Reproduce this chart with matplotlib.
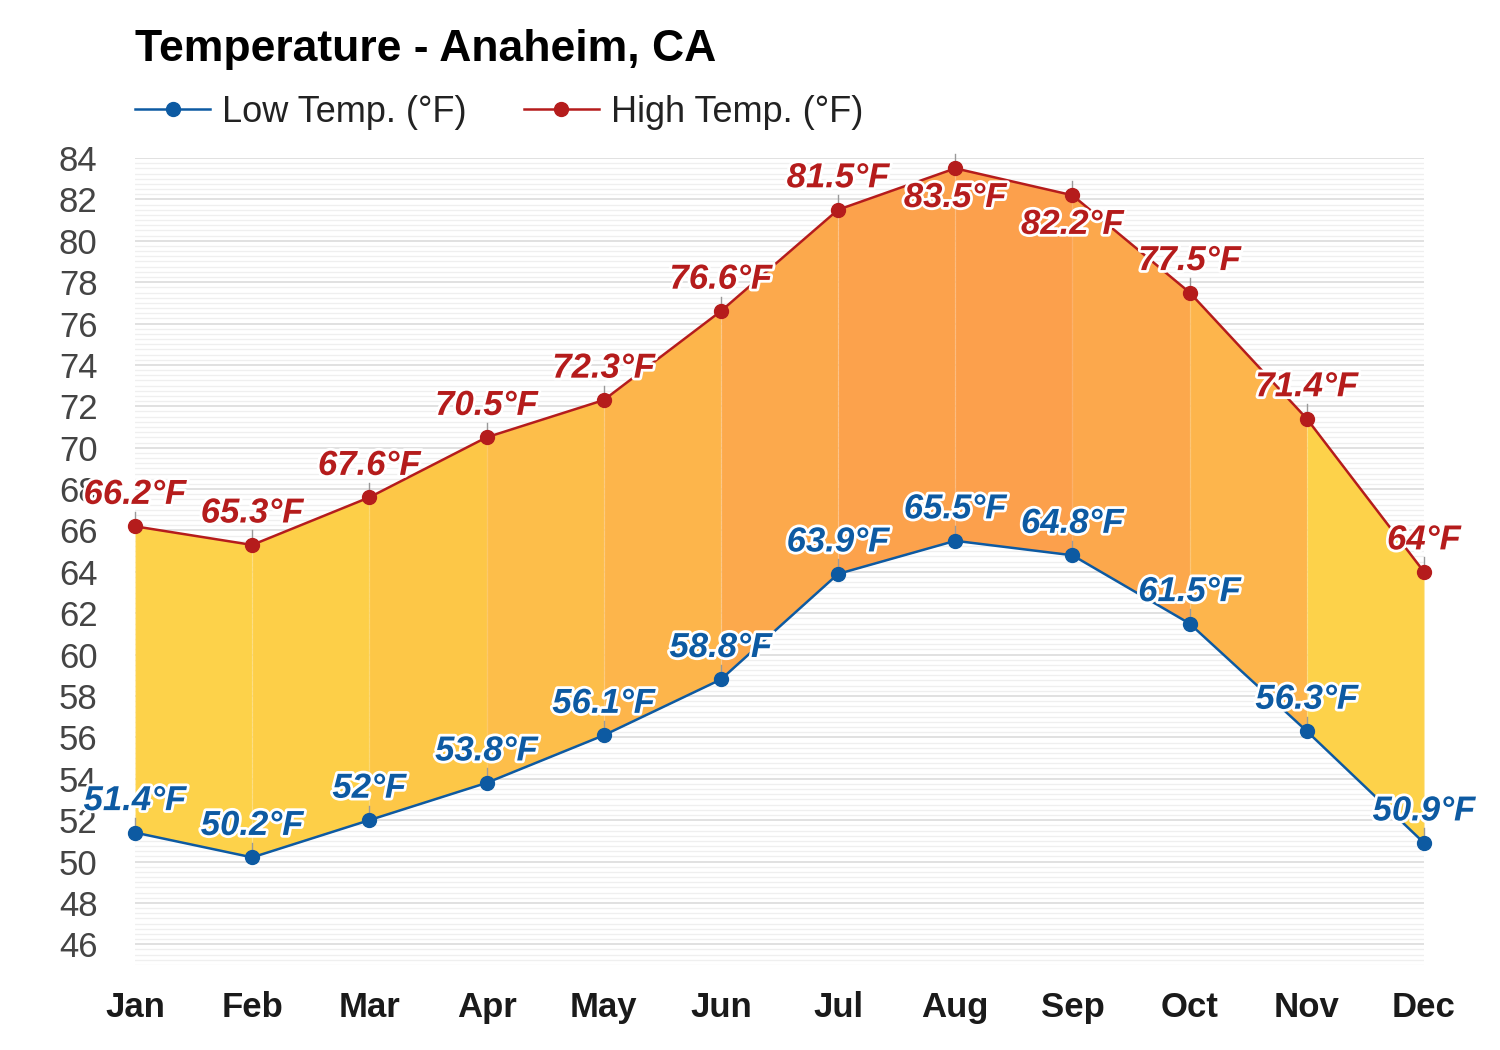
import matplotlib
matplotlib.use("Agg")
import matplotlib.pyplot as plt
import matplotlib.patheffects as pe
import numpy as np

months = ["Jan", "Feb", "Mar", "Apr", "May", "Jun", "Jul", "Aug", "Sep", "Oct", "Nov", "Dec"]
low_temp = [51.4, 50.2, 52.0, 53.8, 56.1, 58.8, 63.9, 65.5, 64.8, 61.5, 56.3, 50.9]
high_temp = [66.2, 65.3, 67.6, 70.5, 72.3, 76.6, 81.5, 83.5, 82.2, 77.5, 71.4, 64.0]
low_labels = ["51.4°F", "50.2°F", "52°F", "53.8°F", "56.1°F", "58.8°F", "63.9°F", "65.5°F", "64.8°F", "61.5°F", "56.3°F", "50.9°F"]
high_labels = ["66.2°F", "65.3°F", "67.6°F", "70.5°F", "72.3°F", "76.6°F", "81.5°F", "83.5°F", "82.2°F", "77.5°F", "71.4°F", "64°F"]
y_ticks = list(range(46, 85, 2))

seg_colors = ["#fdd24a", "#fdcf48", "#fdc747", "#fdbe4a", "#fdb54b", "#fca94c",
              "#fca24c", "#fca04c", "#fca84c", "#fdb54c", "#fdd24a"]

FONT = "Liberation Sans"
plt.rcParams["font.family"] = [FONT, "DejaVu Sans"]

fig = plt.figure(figsize=(15, 10.5), dpi=100)
fig.patch.set_facecolor("white")
ax = fig.add_axes([0.09, 1 - 965 / 1050, (1424 - 135) / 1500, (965 - 158) / 1050])
ax.set_xlim(0, 11)
ax.set_ylim(45, 84)

# grid
for v in np.arange(45, 84.01, 0.25):
    major = abs(v - round(v)) < 1e-6 and int(round(v)) % 2 == 0
    ax.axhline(v, color="#dcdcdc" if major else "#efefef", lw=1.2 if major else 0.9, zorder=0)

x = np.arange(len(months))
for i in range(len(months) - 1):
    ax.fill_between(x[i:i + 2], low_temp[i:i + 2], high_temp[i:i + 2],
                    color=seg_colors[i], lw=0, zorder=1)
for i in range(len(months)):
    ax.plot([x[i], x[i]], [low_temp[i], high_temp[i]], color="white", alpha=0.15, lw=1, zorder=1.5)

low_c = "#0d5aa2"
high_c = "#b51c1c"
ax.plot(x, low_temp, color=low_c, lw=1.8, marker="o", ms=10, zorder=4, clip_on=False,
        label="Low Temp. (°F)")
ax.plot(x, high_temp, color=high_c, lw=1.8, marker="o", ms=10, zorder=4, clip_on=False,
        label="High Temp. (°F)")

outline = [pe.withStroke(linewidth=4, foreground="white")]
below = {7, 8}
lab_kw = dict(textcoords="offset points", ha="center", va="center", fontsize=25,
              fontweight="bold", style="italic", path_effects=outline, zorder=6,
              annotation_clip=False)
for i in range(len(months)):
    dy = -21 if i in below else 23
    ax.annotate(high_labels[i], (x[i], high_temp[i]), xytext=(0, dy), color=high_c, **lab_kw)
    ax.annotate(low_labels[i], (x[i], low_temp[i]), xytext=(0, 23), color=low_c, **lab_kw)
    for yv in (low_temp[i], high_temp[i]):
        ax.plot([x[i], x[i]], [yv, yv + 0.7], color="#999999", lw=1, zorder=3.5, clip_on=False)

ax.set_xticks(x)
ax.set_xticklabels(months, fontsize=25, fontweight="bold", color="#1a1a1a")
ax.set_yticks(y_ticks)
ax.set_yticklabels([str(t) for t in y_ticks], fontsize=25, color="#444444")
ax.tick_params(axis="both", length=0)
ax.tick_params(axis="x", pad=19)
ax.tick_params(axis="y", pad=27)
for s in ax.spines.values():
    s.set_visible(False)

fig.text(135 / 1500, 1 - 50 / 1050, "Temperature - Anaheim, CA", fontsize=32, fontweight="bold",
         color="#000000", ha="left", va="center")
leg = fig.legend(loc="center left", bbox_to_anchor=(135 / 1500, 1 - 112 / 1050), ncol=2, frameon=False,
                 fontsize=26, handlelength=2.08, columnspacing=1.58, handletextpad=0.33,
                 borderpad=0, borderaxespad=0, labelcolor="#222222")

fig.savefig("out.png", dpi=100, facecolor="white")
